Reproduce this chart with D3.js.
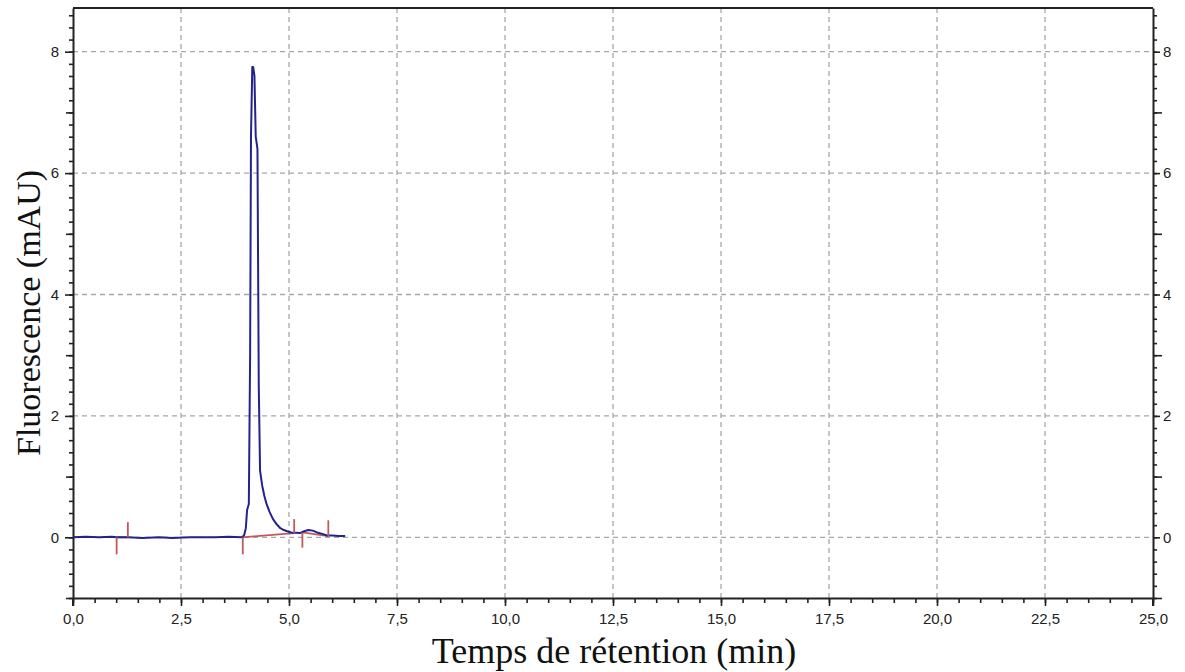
<!DOCTYPE html>
<html>
<head>
<meta charset="utf-8">
<script src="https://cdn.jsdelivr.net/npm/d3@7"></script>
<style>
  html, body { margin: 0; padding: 0; background: #fff; }
  svg { display: block; }
</style>
</head>
<body>
<svg id="chart" width="1185" height="672"></svg>
<script>
// ---- Data ----
const xTicks = [0, 2.5, 5, 7.5, 10, 12.5, 15, 17.5, 20, 22.5, 25];
const yTicks = [0, 2, 4, 6, 8];

// chromatogram trace (time in min, fluorescence in mAU)
const traceTime = [0.0, 0.3, 0.6, 0.9, 1.01, 1.27, 1.6, 2.0, 2.3, 2.7, 3.0, 3.3, 3.6, 3.9, 3.96,
  4.0, 4.03, 4.07, 4.10, 4.12, 4.15, 4.17, 4.20, 4.23, 4.27, 4.30, 4.33, 4.38, 4.43, 4.48,
  4.55, 4.63, 4.72, 4.80, 4.88, 4.96, 5.05, 5.15, 5.25, 5.35, 5.45, 5.55, 5.65, 5.75, 5.88,
  6.0, 6.15, 6.3];
const traceValue = [0.0, 0.01, 0.0, 0.01, 0.0, 0.0, -0.01, 0.0, -0.01, 0.0, 0.0, 0.0, 0.01, 0.0, 0.03,
  0.15, 0.45, 0.55, 3.0, 6.6, 7.75, 7.75, 7.6, 6.6, 6.4, 2.5, 1.1, 0.85, 0.68, 0.55,
  0.42, 0.30, 0.21, 0.15, 0.12, 0.10, 0.08, 0.075, 0.07, 0.10, 0.12, 0.11, 0.08, 0.06, 0.03,
  0.03, 0.02, 0.02];

// integration baselines (start/end time and value)
const baseStartTime = [1.01, 3.93, 5.31];
const baseStartValue = [0.0, 0.0, 0.08];
const baseEndTime = [1.27, 5.12, 5.91];
const baseEndValue = [0.0, 0.07, 0.02];
// peak markers: time, base value, tip value
const markerTime = [1.01, 1.27, 3.93, 5.12, 5.31, 5.91];
const markerBase = [0.0, 0.0, 0.0, 0.07, 0.08, 0.02];
const markerTip = [-0.28, 0.25, -0.28, 0.30, -0.17, 0.28];

// ---- Layout ----
const svg = d3.select("#chart");
const pL = 73, pR = 1153, pT = 8, pB = 598;
const x = d3.scaleLinear().domain([0, 25]).range([pL, pR]);
const y = d3.scaleLinear().domain([-1, 8.72]).range([pB, pT]);

const fmtX = d => d3.format(".1f")(d).replace(".", ",");
const fontTick = "'Liberation Sans', Arial, sans-serif";

// grid
const grid = svg.append("g").attr("stroke", "#a8a8a8").attr("stroke-width", 1.3)
  .attr("stroke-dasharray", "5,4");
grid.selectAll("line.v").data(xTicks.filter(d => d > 0 && d < 25)).join("line").attr("class", "v")
  .attr("x1", d => x(d)).attr("x2", d => x(d)).attr("y1", pT).attr("y2", pB);
grid.selectAll("line.h").data(yTicks).join("line").attr("class", "h")
  .attr("y1", d => y(d)).attr("y2", d => y(d)).attr("x1", pL).attr("x2", pR);

// axes
const xMinor = d3.range(0, 25.001, 0.5);
const yMinor = d3.range(-1, 8.61, 0.2).map(d => Math.round(d * 10) / 10);
const yMid = [-1, 1, 3, 5, 7];

function styleAxis(g) {
  g.selectAll(".domain").attr("stroke", "#222").attr("stroke-width", 2);
  g.selectAll(".tick line").attr("stroke", "#222").attr("stroke-width", 1.6);
  g.selectAll("text").attr("font-family", fontTick).attr("font-size", 15).attr("fill", "#222");
}

// bottom axis
svg.append("g").attr("transform", `translate(0,${pB})`)
  .call(d3.axisBottom(x).tickValues(xMinor).tickSize(5).tickFormat("").tickSizeOuter(0))
  .call(styleAxis);
svg.append("g").attr("transform", `translate(0,${pB})`)
  .call(d3.axisBottom(x).tickValues(xTicks).tickSize(8).tickPadding(7).tickFormat(fmtX).tickSizeOuter(0))
  .call(styleAxis)
  .call(g => g.select(".domain").remove());

// left axis
svg.append("g").attr("transform", `translate(${pL},0)`)
  .call(d3.axisLeft(y).tickValues(yMinor).tickSize(4).tickFormat("").tickSizeOuter(0))
  .call(styleAxis);
svg.append("g").attr("transform", `translate(${pL},0)`)
  .call(d3.axisLeft(y).tickValues(yMid).tickSize(7).tickFormat("").tickSizeOuter(0))
  .call(styleAxis).call(g => g.select(".domain").remove());
svg.append("g").attr("transform", `translate(${pL},0)`)
  .call(d3.axisLeft(y).tickValues(yTicks).tickSize(8).tickPadding(6).tickFormat(d3.format("d")).tickSizeOuter(0))
  .call(styleAxis).call(g => g.select(".domain").remove());

// right axis
svg.append("g").attr("transform", `translate(${pR},0)`)
  .call(d3.axisRight(y).tickValues(yMinor).tickSize(4).tickFormat("").tickSizeOuter(0))
  .call(styleAxis);
svg.append("g").attr("transform", `translate(${pR},0)`)
  .call(d3.axisRight(y).tickValues(yMid).tickSize(9).tickFormat("").tickSizeOuter(0))
  .call(styleAxis).call(g => g.select(".domain").remove());
svg.append("g").attr("transform", `translate(${pR},0)`)
  .call(d3.axisRight(y).tickValues(yTicks).tickSize(7).tickPadding(3).tickFormat(d3.format("d")).tickSizeOuter(0))
  .call(styleAxis).call(g => g.select(".domain").remove());

// top frame
svg.append("line").attr("x1", pL).attr("x2", pR).attr("y1", pT).attr("y2", pT)
  .attr("stroke", "#222").attr("stroke-width", 2);
// frame extends a little under the x axis
svg.append("line").attr("x1", pL).attr("x2", pL).attr("y1", pB).attr("y2", pB + 8)
  .attr("stroke", "#222").attr("stroke-width", 2);
svg.append("line").attr("x1", pR).attr("x2", pR).attr("y1", pB).attr("y2", pB + 8)
  .attr("stroke", "#222").attr("stroke-width", 2);

// integration baselines (red)
const red = "#c05a5a";
const baseG = svg.append("g").attr("stroke", red).attr("stroke-width", 1.8);
baseG.selectAll("line").data(baseStartTime.map((t, i) => i)).join("line")
  .attr("x1", i => x(baseStartTime[i])).attr("y1", i => y(baseStartValue[i]))
  .attr("x2", i => x(baseEndTime[i])).attr("y2", i => y(baseEndValue[i]));

// trace (blue)
const line = d3.line().x(i => x(traceTime[i])).y(i => y(traceValue[i]));
svg.append("path").attr("d", line(d3.range(traceTime.length)))
  .attr("fill", "none").attr("stroke", "#23238c").attr("stroke-width", 2)
  .attr("stroke-linejoin", "round");

// markers
const mG = svg.append("g").attr("stroke", red).attr("stroke-width", 1.8);
mG.selectAll("line").data(markerTime.map((t, i) => i)).join("line")
  .attr("x1", i => x(markerTime[i])).attr("x2", i => x(markerTime[i]))
  .attr("y1", i => y(markerBase[i])).attr("y2", i => y(markerTip[i]));

// titles
svg.append("text").attr("x", 614).attr("y", 663).attr("text-anchor", "middle")
  .attr("font-family", "'Liberation Serif', 'Times New Roman', serif").attr("font-size", 36)
  .attr("fill", "#111").text("Temps de rétention (min)");
svg.append("text").attr("transform", "translate(40,313) rotate(-90)").attr("text-anchor", "middle")
  .attr("font-family", "'Liberation Serif', 'Times New Roman', serif").attr("font-size", 34)
  .attr("fill", "#111").text("Fluorescence (mAU)");
</script>
</body>
</html>
